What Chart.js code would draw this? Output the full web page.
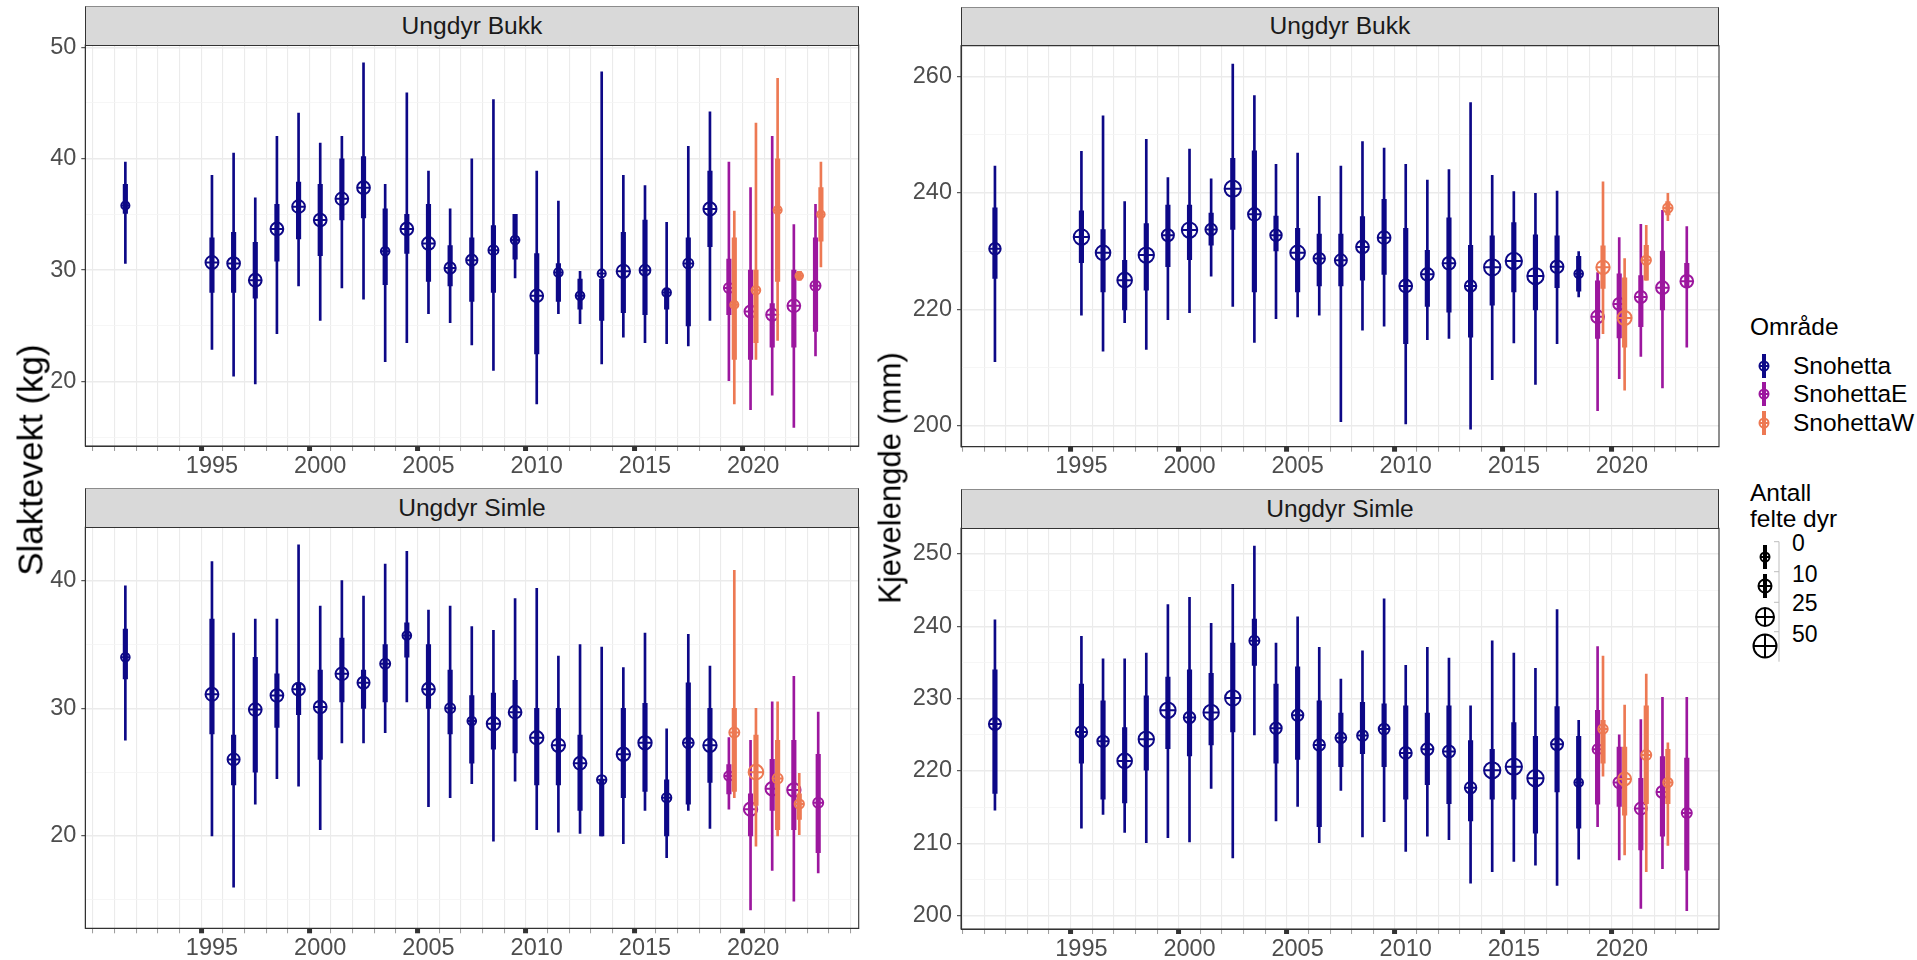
<!DOCTYPE html>
<html><head><meta charset="utf-8">
<script src="https://cdn.jsdelivr.net/npm/chart.js@4.4.1/dist/chart.umd.min.js"></script>
<style>
html,body{margin:0;padding:0;background:#fff;}
body{width:1917px;height:960px;position:relative;overflow:hidden;font-family:"Liberation Sans",Arial,sans-serif;}
canvas{position:absolute;}
.strip{position:absolute;background:#D9D9D9;border:1px solid #333;border-top-color:#8c8c8c;box-sizing:border-box;display:flex;align-items:center;justify-content:center;font-size:24.6px;color:#1A1A1A;}
.ytitle{position:absolute;white-space:nowrap;font-size:31px;color:#000;transform:translate(-50%,-50%) rotate(-90deg);line-height:1;}
.lg{position:absolute;white-space:nowrap;font-size:24.5px;color:#000;line-height:28px;}
svg{position:absolute;overflow:visible;}
</style></head><body>
<script>
// ---------- categories / labels ----------
const areas = ['Snohetta', 'SnohettaE', 'SnohettaW'];
const areaColors = ['#0D0887', '#9C179E', '#ED7953'];
const panelTitles = ['Ungdyr Bukk', 'Ungdyr Simle'];
const yTitles = ['Slaktevekt (kg)', 'Kjevelengde (mm)'];
const xTickYears = [1995, 2000, 2005, 2010, 2015, 2020];
const sizeLegendTitle = ['Antall', 'felte dyr'];
const sizeBreaks = [0, 10, 25, 50];

// rows: [year, median, lo50, hi50, lo95, hi95, antall]
const vektBukkSnohetta = [
 [1991,35.8,35.1,37.7,30.6,39.7,2],[1995,30.7,28.0,32.9,22.9,38.5,21],[1996,30.6,28.0,33.4,20.5,40.5,20],
 [1997,29.1,27.5,32.5,19.8,36.5,20],[1998,33.7,30.8,35.9,24.3,42.0,20],[1999,35.7,32.8,37.9,28.6,44.1,20],
 [2000,34.5,31.3,37.7,25.5,41.4,20],[2001,36.4,34.5,40.0,28.4,42.0,20],[2002,37.4,34.7,40.2,27.4,48.6,20],
 [2003,31.7,28.7,35.5,21.8,37.7,3],[2004,33.7,31.5,35.0,23.5,45.9,20],[2005,32.4,29.0,35.9,26.1,38.9,20],
 [2006,30.2,28.6,32.2,25.3,35.5,12],[2007,30.9,27.2,32.9,23.3,40.0,12],[2008,31.8,28.0,34.0,21.0,45.3,7],
 [2009,32.7,31.0,35.0,29.3,35.0,3],[2010,27.7,22.5,31.5,18.0,38.9,20],[2011,29.8,27.2,30.6,26.1,36.2,3],
 [2012,27.7,26.5,29.2,25.2,29.9,3],[2013,29.7,25.5,29.2,21.6,47.8,2],[2014,29.9,26.2,33.4,24.0,38.5,24],
 [2015,30.0,26.0,34.5,23.5,37.6,10],[2016,28.0,26.5,28.4,23.4,34.3,3],[2017,30.6,25.0,32.9,23.2,41.1,7],
 [2018,35.5,32.1,38.9,25.5,44.2,22]
];
const vektBukkSnohettaE = [
 [2019,28.4,26.0,31.0,20.1,39.7,7],[2020,26.3,22.0,30.0,17.5,37.4,16],[2021,26.0,23.1,27.0,18.8,42.0,16],
 [2022,26.8,23.1,30.0,15.9,34.1,20],[2023,28.6,24.5,32.9,22.3,35.9,7]
];
const vektBukkSnohettaW = [
 [2019,26.9,22.0,32.9,18.0,35.3,2],[2020,28.2,23.5,30.0,22.0,43.2,3],[2021,35.4,29.0,40.0,23.7,47.2,2],
 [2022,29.5,29.1,29.9,29.1,29.9,1],[2023,35.0,32.6,37.4,30.3,39.7,1]
];
const vektSimleSnohetta = [
 [1991,34.0,32.3,36.2,27.5,39.6,3],[1995,31.1,28.0,37.0,20.0,41.5,21],[1996,26.0,24.0,27.9,16.0,35.9,16],
 [1997,29.9,25.0,34.0,22.5,37.0,20],[1998,31.0,28.5,32.7,24.5,37.0,20],[1999,31.5,29.5,31.9,23.9,42.8,20],
 [2000,30.1,26.0,33.0,20.5,38.0,20],[2001,32.7,30.5,35.5,27.3,40.0,20],[2002,32.0,30.0,33.0,27.3,38.8,16],
 [2003,33.5,30.5,35.0,28.1,41.3,7],[2004,35.7,34.0,36.7,30.5,42.3,3],[2005,31.5,30.0,35.0,22.3,37.7,20],
 [2006,30.0,28.0,33.0,23.0,38.0,7],[2007,29.0,25.7,31.0,24.1,36.4,3],[2008,28.8,26.8,31.2,19.6,36.1,24],
 [2009,29.7,26.5,32.2,24.3,38.6,20],[2010,27.7,24.0,30.0,20.5,39.4,24],[2011,27.1,24.0,30.0,20.3,34.1,24],
 [2012,25.7,22.0,27.9,20.2,35.0,20],[2013,24.4,20.0,24.4,20.0,34.8,5],[2014,26.4,23.0,30.0,19.4,33.2,24],
 [2015,27.3,23.5,30.4,22.0,35.9,24],[2016,23.0,20.0,24.4,18.3,28.4,5],[2017,27.3,22.5,32.0,22.0,35.8,10],
 [2018,27.1,24.2,30.0,20.6,33.3,24]
];
const vektSimleSnohettaE = [
 [2019,24.7,23.3,25.6,22.1,27.7,5],[2020,22.1,20.0,23.3,14.2,27.5,24],[2021,23.7,22.0,26.0,17.3,30.5,24],
 [2022,23.6,20.5,27.5,14.9,32.5,24],[2023,22.6,18.7,26.4,17.1,29.7,7]
];
const vektSimleSnohettaW = [
 [2019,28.1,23.5,30.0,23.0,40.8,7],[2020,25.0,22.4,27.9,19.2,30.0,33],[2021,24.5,20.5,27.5,20.0,30.5,7],
 [2022,22.5,21.3,23.3,20.1,24.9,5]
];
const kjeveBukkSnohetta = [
 [1991,230.4,225.3,237.4,211.0,244.6,13],[1995,232.4,228.0,236.9,219.0,247.1,39],[1996,229.7,223.0,233.7,212.8,253.2,33],
 [1997,225.0,219.9,228.4,217.7,238.5,33],[1998,229.3,223.3,234.7,213.1,249.2,39],[1999,232.7,227.3,237.9,218.2,242.6,16],
 [2000,233.6,228.5,237.9,219.4,247.5,39],[2001,233.7,231.0,236.5,225.7,242.4,13],[2002,240.7,233.7,245.9,220.5,262.1,47],
 [2003,236.3,223.0,247.2,214.3,256.7,20],[2004,232.7,230.0,236.0,218.4,244.9,13],[2005,229.7,223.0,233.9,218.7,246.8,33],
 [2006,228.7,224.0,232.9,219.0,239.4,13],[2007,228.4,224.0,232.9,200.7,244.6,16],[2008,230.7,225.0,235.9,216.4,248.8,20],
 [2009,232.3,226.0,238.9,217.1,247.7,20],[2010,224.0,214.1,233.9,200.3,244.9,20],[2011,226.0,220.5,230.1,214.8,242.2,20],
 [2012,227.9,219.5,235.7,215.0,244.0,20],[2013,224.0,215.2,231.0,199.4,255.5,13],[2014,227.2,220.7,232.6,207.9,243.0,47],
 [2015,228.3,223.0,234.9,214.2,240.2,47],[2016,225.7,219.9,232.8,207.1,239.9,47],[2017,227.3,223.7,232.6,214.1,240.3,20],
 [2018,226.1,223.1,229.1,222.1,229.9,3]
];
const kjeveBukkSnohettaE = [
 [2019,218.7,215.0,224.9,202.6,226.3,20],[2020,220.9,215.1,226.1,208.1,232.3,16],[2021,222.1,217.0,225.8,211.9,234.6,16],
 [2022,223.7,219.9,230.0,206.5,237.0,20],[2023,224.8,223.8,227.9,213.5,234.2,20]
];
const kjeveBukkSnohettaW = [
 [2019,227.2,223.6,230.9,215.8,241.9,24],[2020,218.5,213.5,225.4,206.1,228.7,28],[2021,228.4,225.0,231.0,225.0,234.4,5],
 [2022,237.4,236.2,238.5,235.2,239.9,5]
];
const kjeveSimleSnohetta = [
 [1991,226.5,216.9,234.0,214.6,240.9,16],[1995,225.4,221.1,232.0,212.1,238.6,13],[1996,224.1,216.1,229.7,214.0,235.5,13],
 [1997,221.4,215.6,226.0,211.5,235.5,33],[1998,224.4,220.1,230.4,210.1,236.3,39],[1999,228.4,223.1,233.0,210.8,243.0,39],
 [2000,227.4,222.1,234.0,210.2,244.0,13],[2001,228.1,223.6,233.5,217.6,240.4,39],[2002,230.1,225.4,237.7,208.0,245.8,39],
 [2003,238.0,234.6,241.0,225.0,251.1,7],[2004,225.9,221.1,232.0,213.1,237.7,13],[2005,227.7,221.6,234.4,215.1,241.3,13],
 [2006,223.6,212.3,229.7,210.1,237.1,13],[2007,224.6,220.6,228.0,217.3,232.7,10],[2008,224.9,222.4,229.5,210.9,236.6,10],
 [2009,225.8,220.6,229.3,213.0,243.8,10],[2010,222.5,216.1,229.0,208.9,234.6,16],[2011,223.0,218.1,228.0,211.0,237.1,16],
 [2012,222.7,215.5,229.0,210.5,235.6,16],[2013,217.7,213.1,224.2,204.5,229.0,13],[2014,220.1,216.1,223.0,206.1,238.0,47],
 [2015,220.6,216.1,226.7,207.5,236.3,47],[2016,219.0,211.4,224.8,207.0,234.2,47],[2017,223.7,217.1,228.9,204.2,242.3,16],
 [2018,218.4,212.1,224.8,207.8,227.0,3]
];
const kjeveSimleSnohettaE = [
 [2019,223.0,215.4,228.4,212.3,237.2,7],[2020,218.4,215.1,223.3,207.7,225.0,13],[2021,214.8,209.1,219.0,201.0,227.1,16],
 [2022,217.1,211.0,222.0,206.5,230.2,16],[2023,214.2,206.3,221.8,200.7,230.2,7]
];
const kjeveSimleSnohettaW = [
 [2019,225.8,221.1,227.0,219.3,235.9,5],[2020,218.9,213.9,223.3,208.4,229.1,21],[2021,222.2,215.5,229.0,206.1,233.4,7],
 [2022,218.4,215.5,223.0,209.7,223.9,5]
];

// ---------- layout ----------
const FONT = '"Liberation Sans", Arial, sans-serif';
const panels = [
 {left:0, top:0, w:872, h:482, yAxisW:85.3, xAxisH:36, padTop:45, padRight:13.3, xMin:1989.15, xMax:2024.87, yMin:14.23, yMax:50.2, yMinor:5, yMajor:10, strip:0,
  series:[vektBukkSnohetta, vektBukkSnohettaE, vektBukkSnohettaW]},
 {left:0, top:482, w:872, h:478, yAxisW:85.3, xAxisH:31.7, padTop:45.3, padRight:13.3, xMin:1989.15, xMax:2024.87, yMin:12.77, yMax:44.18, yMinor:5, yMajor:10, strip:1,
  series:[vektSimleSnohetta, vektSimleSnohettaE, vektSimleSnohettaW]},
 {left:872, top:0, w:858, h:482, yAxisW:89, xAxisH:35.3, padTop:45.7, padRight:11, xMin:1989.43, xMax:2024.49, yMin:196.4, yMax:265.26, yMinor:10, yMajor:20, strip:0,
  series:[kjeveBukkSnohetta, kjeveBukkSnohettaE, kjeveBukkSnohettaW]},
 {left:872, top:482, w:858, h:478, yAxisW:89, xAxisH:31, padTop:46.3, padRight:11, xMin:1989.43, xMax:2024.49, yMin:198.16, yMax:253.55, yMinor:5, yMajor:10, strip:1,
  series:[kjeveSimleSnohetta, kjeveSimleSnohettaE, kjeveSimleSnohettaW]}
];
const DODGE = 0.125;
const radiusFor = n => 3 + 0.75 * Math.sqrt(n);
const isXMajor = v => xTickYears.includes(v);

function xPos(year, s, series) {
  if (s === 0) return year;
  const other = series[s === 1 ? 2 : 1];
  const both = other.some(r => r[0] === year);
  return both ? year + (s === 1 ? -DODGE : DODGE) : year;
}

function buildDatasets(series) {
  const ds = [];
  let order = 1000;
  series.forEach((rows, s) => {
    const col = areaColors[s];
    const xs = rows.map(r => xPos(r[0], s, series));
    ds.push({type:'bar', label: areas[s] + ' 95', data: rows.map((r,i) => ({x: xs[i], y: [r[4], r[5]]})),
      backgroundColor: col, borderWidth: 0, barThickness: 2, grouped: false, order: order--});
    ds.push({type:'bar', label: areas[s] + ' 50', data: rows.map((r,i) => ({x: xs[i], y: [r[2], r[3]]})),
      backgroundColor: col, borderWidth: 0, barThickness: 4.5, grouped: false, order: order--});
    const pts = rows.map((r,i) => ({x: xs[i], y: r[1], n: r[6]}));
    ds.push({type:'scatter', label: areas[s], data: pts, pointStyle: 'circle',
      pointRadius: c => radiusFor(c.raw.n), pointBorderColor: col, pointBackgroundColor: 'rgba(0,0,0,0)',
      pointBorderWidth: 2, showLine: false, order: order--});
    ds.push({type:'scatter', label: areas[s] + ' +', data: pts, pointStyle: 'cross',
      pointRadius: c => radiusFor(c.raw.n), pointBorderColor: col, pointBorderWidth: 2, showLine: false, order: order--});
  });
  return ds;
}

const framePlugin = {id:'frame', afterDatasetsDraw(chart) {
  const {ctx, chartArea: a} = chart;
  ctx.save(); ctx.strokeStyle = '#333'; ctx.lineWidth = 1.1;
  ctx.strokeRect(a.left, a.top, a.right - a.left, a.bottom - a.top); ctx.restore();
}};

panels.forEach((p, k) => {
  const cv = document.createElement('canvas');
  cv.width = p.w; cv.height = p.h;
  cv.style.left = p.left + 'px'; cv.style.top = p.top + 'px';
  cv.style.width = p.w + 'px'; cv.style.height = p.h + 'px';
  document.body.appendChild(cv);
  const isMajY = v => Math.abs(v % p.yMajor) < 1e-6;
  new Chart(cv.getContext('2d'), {
    type: 'scatter',
    data: {datasets: buildDatasets(p.series)},
    plugins: [framePlugin],
    options: {
      responsive: false, animation: false, devicePixelRatio: 1,
      layout: {padding: {left: 0, top: p.padTop, right: p.padRight, bottom: 0}},
      plugins: {legend: {display: false}, tooltip: {enabled: false}, title: {display: false}},
      scales: {
        x: {type: 'linear', min: p.xMin, max: p.xMax, offset: false,
          afterFit: s => { s.height = p.xAxisH; },
          ticks: {stepSize: 1, includeBounds: false, autoSkip: false, maxRotation: 0, padding: 1,
            color: '#4D4D4D', font: {family: FONT, size: 23.5},
            callback: v => (isXMajor(v) ? String(v) : '')},
          grid: {color: '#EBEBEB', lineWidth: 1.1, tickLength: 5,
            tickColor: c => (c.tick && isXMajor(c.tick.value) ? '#333333' : '#9a9a9a'),
            tickWidth: c => (c.tick && isXMajor(c.tick.value) ? 5 : 1)},
          border: {display: true, color: '#333', width: 1}},
        y: {type: 'linear', min: p.yMin, max: p.yMax,
          afterFit: s => { s.width = p.yAxisW; },
          ticks: {stepSize: p.yMinor, includeBounds: false, autoSkip: false, padding: 5,
            color: '#4D4D4D', font: {family: FONT, size: 23.5},
            callback: v => (isMajY(v) ? String(v) : '')},
          grid: {color: c => (c.tick && isMajY(c.tick.value) ? '#EBEBEB' : '#F4F4F4'),
            lineWidth: c => (c.tick && isMajY(c.tick.value) ? 1.4 : 0.8), tickLength: 4,
            tickColor: c => (c.tick && isMajY(c.tick.value) ? '#333333' : 'rgba(0,0,0,0)'), tickWidth: 1},
          border: {display: true, color: '#333', width: 1}}
      }
    }
  });
  // facet strip
  const plotLeft = p.left + p.yAxisW, plotRight = p.left + p.w - p.padRight, plotTop = p.top + p.padTop;
  const st = document.createElement('div');
  st.className = 'strip';
  st.style.left = plotLeft + 'px'; st.style.width = (plotRight - plotLeft) + 'px';
  st.style.top = (plotTop - 39) + 'px'; st.style.height = '39.5px';
  st.textContent = panelTitles[p.strip];
  document.body.appendChild(st);
});

// y axis titles
[[30, 460, yTitles[0], 35], [890, 478, yTitles[1], 31]].forEach(([cx, cy, t, fs]) => {
  const d = document.createElement('div');
  d.className = 'ytitle'; d.style.left = cx + 'px'; d.style.top = cy + 'px'; d.style.fontSize = fs + 'px';
  d.textContent = t;
  document.body.appendChild(d);
});

// ---------- legends ----------
const NS = 'http://www.w3.org/2000/svg';
function glyph(parent, cx, cy, r, col, lineHalf, lineW) {
  const svg = document.createElementNS(NS, 'svg');
  svg.setAttribute('width', 40); svg.setAttribute('height', 40);
  svg.style.left = (cx - 20) + 'px'; svg.style.top = (cy - 20) + 'px';
  const add = (tag, attrs) => { const e = document.createElementNS(NS, tag); for (const a in attrs) e.setAttribute(a, attrs[a]); svg.appendChild(e); };
  if (lineHalf > 0) add('line', {x1:20, x2:20, y1:20 - lineHalf, y2:20 + lineHalf, stroke: col, 'stroke-width': lineW});
  add('circle', {cx:20, cy:20, r: r, fill: 'none', stroke: col, 'stroke-width': 2});
  add('line', {x1:20 - r, x2:20 + r, y1:20, y2:20, stroke: col, 'stroke-width': 2});
  add('line', {x1:20, x2:20, y1:20 - r, y2:20 + r, stroke: col, 'stroke-width': 2});
  parent.appendChild(svg);
}
function text(t, x, cy, size) {
  const d = document.createElement('div');
  d.className = 'lg'; d.style.left = x + 'px'; d.style.top = (cy - 14) + 'px';
  if (size) d.style.fontSize = size + 'px';
  d.textContent = t; document.body.appendChild(d);
}
text('Område', 1750, 327);
areas.forEach((a, i) => {
  const cy = 366 + i * 28.3;
  glyph(document.body, 1764, cy, 4.5, areaColors[i], 12, 4);
  text(a, 1793, cy);
});
text(sizeLegendTitle[0], 1750, 493);
text(sizeLegendTitle[1], 1750, 519);
// binned size guide
const keyY = [556.7, 586, 616.7, 645.7];
const keyR = [4.5, 6.5, 9, 11.5];
keyY.forEach((y, i) => glyph(document.body, 1765, y, keyR[i], '#000', i < 2 ? 12 : 0, 4));
(function axis() {
  const svg = document.createElementNS(NS, 'svg');
  svg.setAttribute('width', 20); svg.setAttribute('height', 140);
  svg.style.left = '1770px'; svg.style.top = '535px';
  const tickY = [541.7, 571.7, 602.3, 631.7];
  const l = document.createElementNS(NS, 'line');
  l.setAttribute('x1', 9); l.setAttribute('x2', 9); l.setAttribute('y1', 541.7 - 535); l.setAttribute('y2', 661.7 - 535);
  l.setAttribute('stroke', '#bdbdbd'); l.setAttribute('stroke-width', 1); svg.appendChild(l);
  tickY.forEach(y => {
    const t = document.createElementNS(NS, 'line');
    t.setAttribute('x1', 4); t.setAttribute('x2', 9); t.setAttribute('y1', y - 535); t.setAttribute('y2', y - 535);
    t.setAttribute('stroke', '#bdbdbd'); t.setAttribute('stroke-width', 1); svg.appendChild(t);
  });
  document.body.appendChild(svg);
})();
const labY = [543, 574, 603, 634];
sizeBreaks.forEach((b, i) => text(String(b), 1792, labY[i], 23));
</script>
</body></html>
